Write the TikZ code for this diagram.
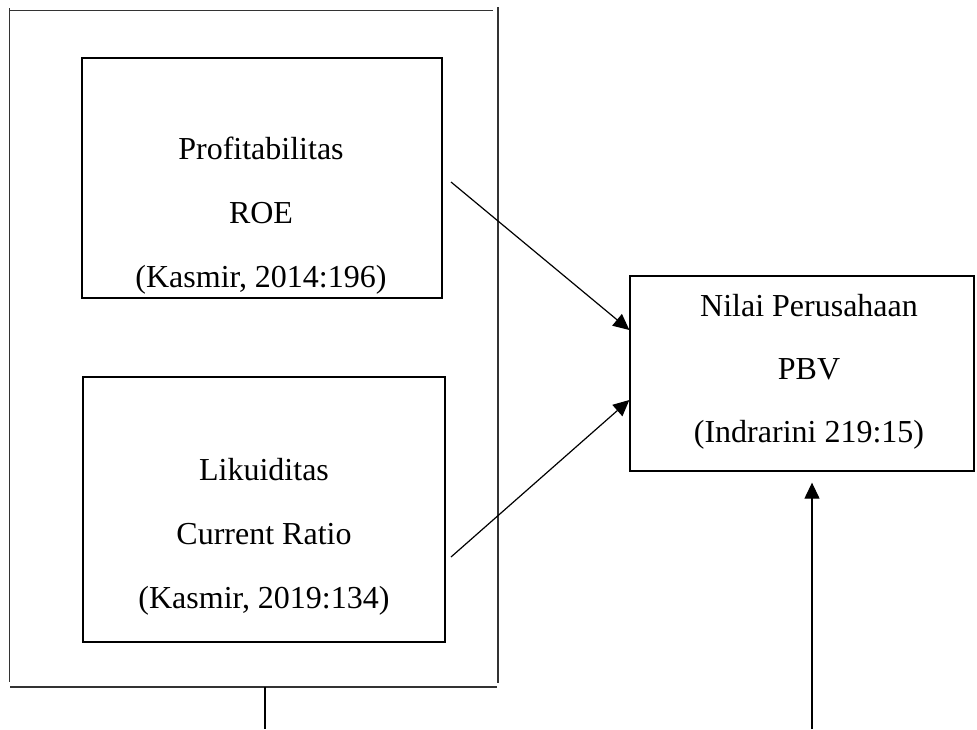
\documentclass[tikz,border=0pt]{standalone}
\usepackage{fontspec}
\setmainfont{Liberation Serif}
\usetikzlibrary{arrows.meta}
\begin{document}
\begin{tikzpicture}[x=1pt,y=-1pt,
  box/.style={draw,line width=1.3pt,inner sep=0pt},
  txt/.style={anchor=base,inner sep=0pt,font=\fontsize{32}{38}\selectfont},
  frame/.style={line width=1.4pt,draw=black!80},
  arr/.style={line width=1.2pt,-{Triangle[length=16pt,width=15pt]}}]
\useasboundingbox (0,0) rectangle (977,729);
% outer frame
\coordinate (ftl) at (10,10.5);
\coordinate (ftr) at (493,10.5);
\coordinate (fl1) at (9.5,8);
\coordinate (fl2) at (9.5,682);
\coordinate (fr1) at (498,7);
\coordinate (fr2) at (498,683);
\coordinate (fb1) at (10,687);
\coordinate (fb2) at (497,687);
\coordinate (st1) at (265,687);
\coordinate (st2) at (265,729);
\draw[frame] (ftl) -- (ftr);
\draw[frame] (fl1) -- (fl2);
\draw[frame] (fr1) -- (fr2);
\draw[frame] (fb1) -- (fb2);
\draw[line width=1.3pt] (st1) -- (st2);
% boxes
\node[box,minimum width=360pt,minimum height=240pt] (b1) at (262,178) {};
\node[box,minimum width=362pt,minimum height=265pt] (b2) at (264,509.5) {};
\node[box,minimum width=344pt,minimum height=195pt] (rb) at (802,373.5) {};
% texts
\node[txt] (t1a) at (261,159) {Profitabilitas};
\node[txt] (t1b) at (261,223) {ROE};
\node[txt] (t1c) at (261,287) {(Kasmir, 2014:196)};
\node[txt] (t2a) at (264,480) {Likuiditas};
\node[txt] (t2b) at (264,544) {Current Ratio};
\node[txt] (t2c) at (264,608) {(Kasmir, 2019:134)};
\node[txt] (t3a) at (809,316) {Nilai Perusahaan};
\node[txt] (t3b) at (809,379) {PBV};
\node[txt] (t3c) at (809,442) {(Indrarini 219:15)};
% arrows
\coordinate (a1s) at (451,182);
\coordinate (a2s) at (451,557);
\coordinate (a3s) at (812,729);
\draw[arr] (a1s) -- ([yshift=43.5pt]rb.west);
\draw[arr] (a2s) -- ([yshift=-26.5pt]rb.west);
\draw[arr,shorten >=11pt] (a3s) -- (a3s |- rb.south);
\end{tikzpicture}
\end{document}
